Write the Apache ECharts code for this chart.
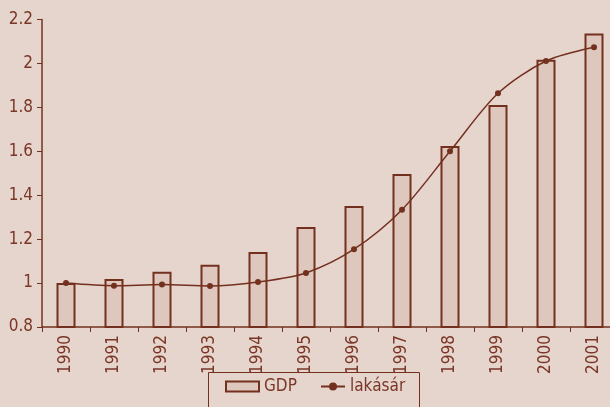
<!DOCTYPE html>
<html><head><meta charset="utf-8">
<script src="https://cdn.jsdelivr.net/npm/echarts@6/dist/echarts.min.js"></script>
<style>html,body{margin:0;padding:0;background:#e6d5cd;overflow:hidden;}#c{width:620px;height:407px;}</style>
</head><body><div id="c"></div>
<script>
const years = ['1990','1991','1992','1993','1994','1995','1996','1997','1998','1999','2000','2001'];
const gdp = [1.0, 1.019, 1.052, 1.083, 1.142, 1.255, 1.351, 1.497, 1.624, 1.811, 2.017, 2.136];
const lakasar = [1.0, 0.988, 0.993, 0.987, 1.005, 1.046, 1.154, 1.334, 1.60, 1.864, 2.011, 2.074];
const yTicks = {min: 0.8, max: 2.2, interval: 0.2};

const dark = '#74301f';
const txt = '#7a3626';
const font = "'DejaVu Sans Condensed', sans-serif";
const chart = echarts.init(document.getElementById('c'));
const legendText = {color: txt, fontSize: 17, fontFamily: font};
chart.setOption({
  backgroundColor: '#e6d5cd',
  animation: false,
  grid: {left: 42, right: 2, top: 19.5, bottom: 80},
  graphic: [{type: 'rect', shape: {x: 208.5, y: 372.5, width: 211, height: 50},
    style: {fill: 'none', stroke: dark, lineWidth: 1}}],
  legend: [{
    top: 378, left: 225, padding: [0, 0, 0, 0],
    itemGap: 8, itemWidth: 33, itemHeight: 10,
    textStyle: legendText,
    data: [{name: 'GDP', icon: 'rect'}]
  }, {
    top: 378, left: 320, padding: [0, 0, 0, 0],
    itemWidth: 24, itemHeight: 10,
    textStyle: legendText,
    data: [{name: 'lakásár'}]
  }],
  xAxis: {
    type: 'category', data: years, boundaryGap: true,
    axisLine: {lineStyle: {color: dark, width: 1.5}},
    axisTick: {show: true, length: 5, lineStyle: {color: dark}},
    axisLabel: {rotate: 90, color: txt, fontSize: 17, fontFamily: font, margin: 8}
  },
  yAxis: {
    type: 'value', min: yTicks.min, max: yTicks.max, interval: yTicks.interval,
    axisLine: {show: true, lineStyle: {color: dark, width: 1.5}},
    axisTick: {show: true, length: 5, lineStyle: {color: dark}},
    splitLine: {show: false},
    axisLabel: {color: txt, fontSize: 17, fontFamily: font, margin: 9,
      formatter: v => String(Math.round(v*10)/10)}
  },
  series: [
    {name: 'GDP', type: 'bar', data: gdp, barWidth: 19,
      itemStyle: {color: '#dec8be', borderColor: dark, borderWidth: 2}},
    {name: 'lakásár', type: 'line', data: lakasar, smooth: 0.3,
      symbol: 'circle', symbolSize: 6,
      lineStyle: {color: dark, width: 1.5},
      itemStyle: {color: dark}}
  ]
});
</script></body></html>
